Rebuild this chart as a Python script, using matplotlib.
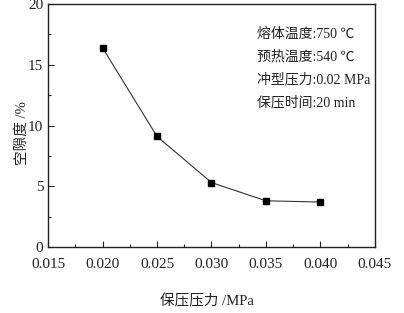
import matplotlib.pyplot as plt
from matplotlib.ticker import MultipleLocator

# Data
pressure = [0.020, 0.025, 0.030, 0.035, 0.040]
porosity = [16.4, 9.1, 5.3, 3.8, 3.7]
notes = ['熔体温度:750 ℃', '预热温度:540 ℃', '冲型压力:0.02 MPa', '保压时间:20 min']

plt.rcParams['font.family'] = ['Liberation Serif', 'Noto Sans CJK SC', 'DejaVu Sans']

fig = plt.figure(figsize=(4.04, 3.13), dpi=100)
ax = fig.add_axes([0.119, 0.211, 0.809, 0.776])

ax.plot(pressure, porosity, color='#333333', linewidth=0.8,
        marker='s', markersize=5, markerfacecolor='black', markeredgecolor='black')

ax.set_xlim(0.015, 0.045)
ax.set_ylim(0, 20)
ax.xaxis.set_major_locator(MultipleLocator(0.005))
ax.xaxis.set_minor_locator(MultipleLocator(0.0025))
ax.yaxis.set_major_locator(MultipleLocator(5))
ax.yaxis.set_minor_locator(MultipleLocator(2.5))
ax.xaxis.set_major_formatter(plt.FuncFormatter(lambda v, p: f'{v:.3f}'))
ax.tick_params(which='both', direction='in', top=False, right=False,
               labelsize=11, color='#222222', labelcolor='#222222')
ax.tick_params(which='major', length=4, width=0.8)
ax.tick_params(which='minor', length=2.5, width=0.8)
ax.tick_params(axis='x', pad=8)
for s in ax.spines.values():
    s.set_linewidth(1.0)
    s.set_color('#222222')

ax.set_xlabel('保压压力 /MPa', fontsize=10.5, color='#222222')
ax.xaxis.set_label_coords(0.486, -0.195)
ax.set_ylabel('空隙度 /%', fontsize=10.5, color='#222222')
ax.yaxis.set_label_coords(-0.058, 0.47)

for i, t in enumerate(notes):
    ax.text(0.64, 0.877 - i * 0.094, t, transform=ax.transAxes,
            fontsize=10, va='center', ha='left', color='#222222')

fig.savefig('out.png', dpi=100)
